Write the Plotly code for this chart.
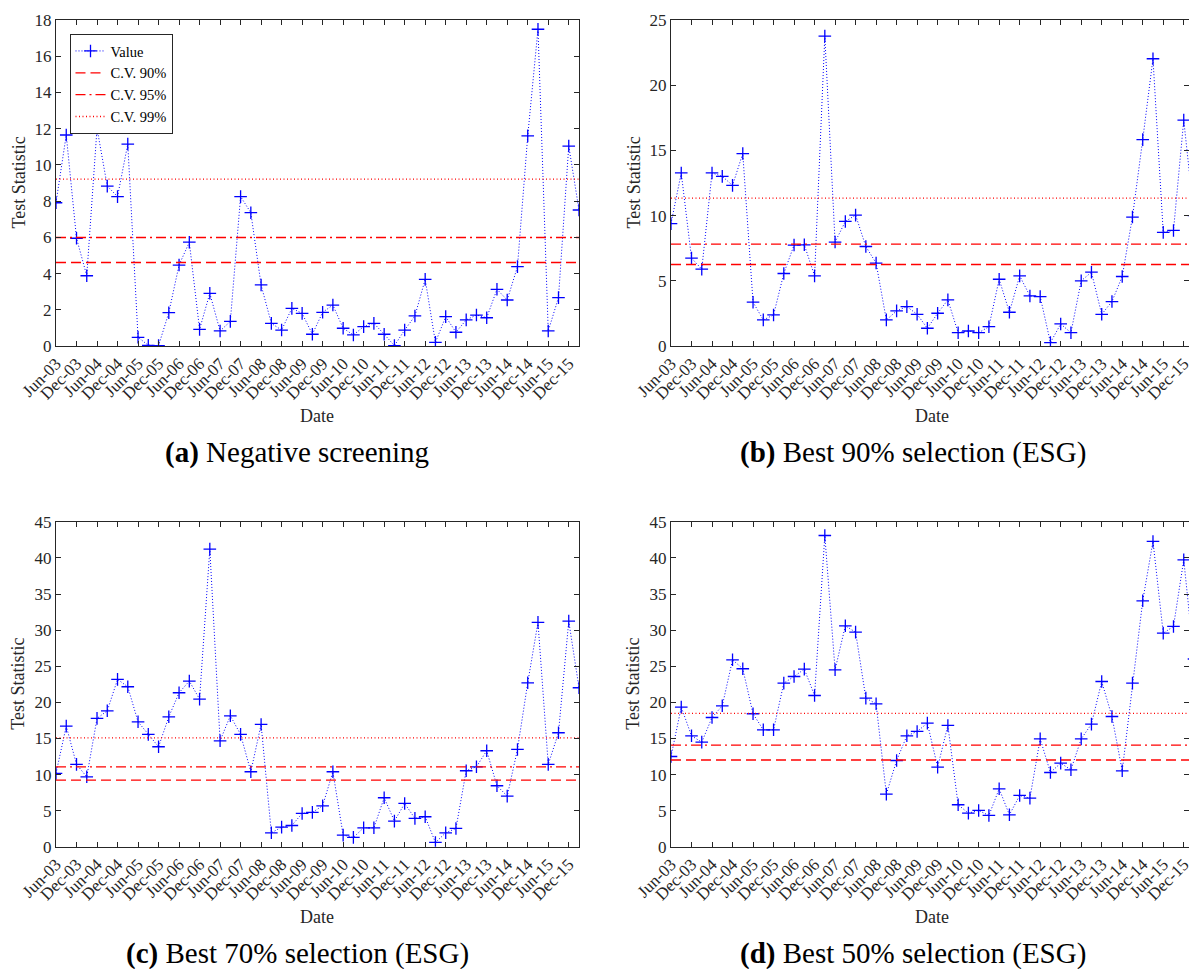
import plotly.graph_objects as go

# ---------------- data ----------------
months = ["Mar", "Jun", "Sep", "Dec"]
dates = []
for yr in range(3, 17):
    for m in months:
        dates.append(f"{m}-{yr:02d}")
dates = dates[dates.index("Jun-03"):dates.index("Mar-16") + 1]   # 52 quarters
tick_labels = [d for d in dates if d.startswith("Jun") or d.startswith("Dec")]

vals_a = [7.91, 11.65, 5.95, 3.88, 12.02, 8.83, 8.25, 11.15, 0.48, 0.04,
          0.02, 1.84, 4.47, 5.73, 0.92, 2.91, 0.83, 1.36, 8.25, 7.36,
          3.37, 1.25, 0.88, 2.08, 1.80, 0.65, 1.86, 2.26, 0.98, 0.61,
          1.07, 1.25, 0.65, 0.02, 0.88, 1.66, 3.68, 0.20, 1.62, 0.76,
          1.44, 1.71, 1.56, 3.13, 2.54, 4.38, 11.60, 17.49, 0.83, 2.67,
          11.04, 7.51]
vals_b = [9.38, 13.27, 6.74, 5.89, 13.27, 13.01, 12.32, 14.76, 3.36, 2.00,
          2.38, 5.56, 7.74, 7.76, 5.38, 23.77, 7.97, 9.55, 10.04, 7.63,
          6.36, 2.00, 2.69, 3.02, 2.43, 1.36, 2.51, 3.54, 1.02, 1.15,
          1.02, 1.48, 5.12, 2.59, 5.38, 3.84, 3.79, 0.26, 1.69, 1.02,
          5.00, 5.66, 2.43, 3.41, 5.33, 9.89, 15.83, 22.03, 8.71, 8.86,
          17.32, 10.00]
vals_c = [10.16, 16.71, 11.41, 9.69, 17.78, 18.83, 23.18, 22.16, 17.31, 15.56,
          13.85, 18.00, 21.33, 22.94, 20.45, 41.22, 14.68, 18.14, 15.56, 10.39,
          16.94, 1.94, 2.72, 2.95, 4.62, 4.76, 5.68, 10.39, 1.62, 1.30,
          2.63, 2.63, 6.79, 3.56, 6.00, 3.93, 4.16, 0.60, 1.94, 2.54,
          10.53, 11.08, 13.30, 8.45, 7.02, 13.48, 22.71, 31.07, 11.41, 15.79,
          31.25, 22.02]
vals_d = [12.50, 19.34, 15.37, 14.49, 17.90, 19.52, 25.89, 24.65, 18.42, 16.20,
          16.20, 22.66, 23.58, 24.60, 20.95, 43.10, 24.51, 30.60, 29.72, 20.59,
          19.80, 7.30, 11.95, 15.37, 15.97, 17.12, 11.03, 16.80, 5.82, 4.66,
          5.03, 4.34, 8.03, 4.43, 7.11, 6.74, 14.95, 10.29, 11.58, 10.66,
          14.95, 16.99, 22.89, 18.04, 10.52, 22.66, 34.06, 42.28, 29.58, 30.51,
          39.74, 26.00]

cv_a = [4.61, 5.99, 9.21]
cv_b = [6.25, 7.81, 11.34]
cv_c = [9.24, 11.07, 15.09]
cv_d = [12.02, 14.07, 18.48]

cv_names = ["C.V. 90%", "C.V. 95%", "C.V. 99%"]
captions = ["<b>(a)</b> Negative screening",
            "<b>(b)</b> Best 90% selection (ESG)",
            "<b>(c)</b> Best 70% selection (ESG)",
            "<b>(d)</b> Best 50% selection (ESG)"]
y_max = [18, 25, 45, 45]
y_step = [2, 5, 5, 5]

# ---------------- layout geometry ----------------
W, H = 1189, 969
FONT = "'Liberation Serif', 'Times New Roman', Times, serif"
AX = "#262626"
px_per_q = (579 - 56) / 51.0

def fx(p):
    return p / W

def fy(p):
    return (H - p) / H

panels = [
    dict(vals=vals_a, cv=cv_a, x0=56, x1=579, yt=20, yb=346),
    dict(vals=vals_b, cv=cv_b, x0=671, x1=1189, yt=20, yb=346),
    dict(vals=vals_c, cv=cv_c, x0=56, x1=579, yt=521.8, yb=846.8),
    dict(vals=vals_d, cv=cv_d, x0=671, x1=1189, yt=521.8, yb=846.8),
]
cv_dash = ["10px,5px", "10px,4px,2px,4px", "1px,2.5px"]

fig = go.Figure()
layout = dict(width=W, height=H,
              margin=dict(l=0, r=0, t=0, b=0, pad=0, autoexpand=False),
              paper_bgcolor="white", plot_bgcolor="white",
              font=dict(family=FONT, size=17, color=AX),
              showlegend=True, annotations=[])

for k, p in enumerate(panels):
    n = k + 1
    xa = "x" if n == 1 else f"x{n}"
    ya = "y" if n == 1 else f"y{n}"
    first = (k == 0)
    fig.add_trace(go.Scatter(
        x=dates, y=p["vals"], xaxis=xa, yaxis=ya, name="Value",
        mode="lines+markers", showlegend=first,
        line=dict(color="blue", width=1, dash="1px,2px"),
        marker=dict(symbol="cross-thin", size=9, color="blue",
                    line=dict(color="blue", width=1.3))))
    for j in range(3):
        fig.add_trace(go.Scatter(
            x=[dates[0], dates[-1]], y=[p["cv"][j], p["cv"][j]],
            xaxis=xa, yaxis=ya, name=cv_names[j], mode="lines",
            showlegend=first,
            line=dict(color="red", width=1.3, dash=cv_dash[j])))
    xrange_max = (p["x1"] - p["x0"]) / px_per_q
    layout["xaxis" if n == 1 else f"xaxis{n}"] = dict(
        domain=[fx(p["x0"]), fx(p["x1"])], anchor=ya, type="category",
        range=[0, xrange_max], tickmode="array", tickvals=tick_labels,
        ticktext=tick_labels, tickangle=-45, ticks="inside", ticklen=5,
        tickcolor=AX, showline=True, linecolor=AX, linewidth=1.2,
        mirror="ticks", showgrid=False, zeroline=False, automargin=False,
        tickfont=dict(family=FONT, size=17, color=AX))
    layout["yaxis" if n == 1 else f"yaxis{n}"] = dict(
        domain=[fy(p["yb"]), fy(p["yt"])], anchor=xa,
        range=[0, y_max[k]], dtick=y_step[k], tick0=0, ticks="inside",
        ticklen=5, tickcolor=AX, showline=True, linecolor=AX, linewidth=1.2,
        mirror="ticks", showgrid=False, zeroline=False, automargin=False,
        tickfont=dict(family=FONT, size=17, color=AX))
    # axis titles and captions
    ytc = (p["yt"] + p["yb"]) / 2 - 0.5
    layout["annotations"].append(dict(
        text="Test Statistic", xref="paper", yref="paper",
        x=fx(p["x0"] - 38), y=fy(ytc), textangle=-90, showarrow=False,
        xanchor="center", yanchor="middle",
        font=dict(family=FONT, size=18, color=AX)))
    layout["annotations"].append(dict(
        text="Date", xref="paper", yref="paper",
        x=fx(317 if k % 2 == 0 else 932), y=fy(p["yb"] + 70),
        showarrow=False, xanchor="center", yanchor="middle",
        font=dict(family=FONT, size=18, color=AX)))
    layout["annotations"].append(dict(
        text=captions[k], xref="paper", yref="paper",
        x=fx(297 if k % 2 == 0 else 913), y=fy(p["yb"] + 107),
        showarrow=False, xanchor="center", yanchor="middle",
        font=dict(family=FONT, size=29, color="black")))

layout["legend"] = dict(x=fx(69.5), y=fy(34), xanchor="left", yanchor="top",
                        bgcolor="white", bordercolor=AX, borderwidth=1,
                        font=dict(family=FONT, size=14.5, color="black"),
                        itemwidth=30, tracegroupgap=0)

fig.update_layout(**layout)
fig.write_html("out.html")
